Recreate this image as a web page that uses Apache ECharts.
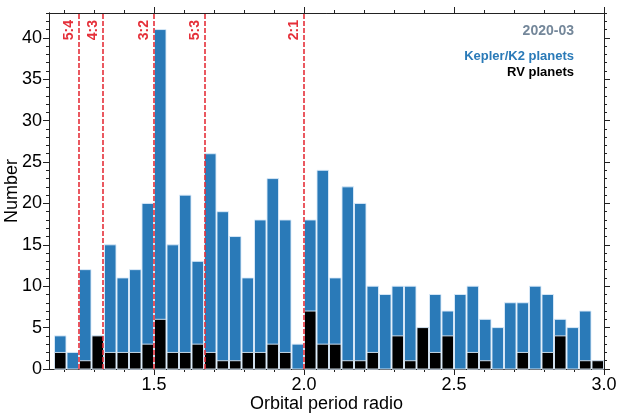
<!DOCTYPE html>
<html>
<head>
    <meta charset="utf-8">
    <title>Period ratio histogram</title>
    <script src="https://cdn.jsdelivr.net/npm/echarts@6.0.0/dist/echarts.min.js"></script>
    <style>
        html, body { margin: 0; padding: 0; background: #fff; }
        #chart { width: 623px; height: 415px; }
    </style>
</head>
<body>
    <div id="chart"></div>
    <script>
        // histogram bins: 44 bins of width 1/24 starting at 7/6
        var binStart = 7 / 6;
        var binWidth = 1 / 24;
        // counts per bin
        var keplerCounts = [4, 2, 12, 4, 15, 11, 12, 20, 41, 15, 21, 13, 26, 19, 16, 11,
                            18, 23, 18, 3, 18, 24, 11, 22, 20, 10, 9, 10, 10, 5, 9, 7,
                            9, 10, 6, 5, 8, 8, 10, 9, 6, 5, 7, 1];
        var rvCounts = [2, 0, 1, 4, 2, 2, 2, 3, 6, 2, 2, 3, 2, 1, 1, 2,
                        2, 3, 2, 0, 7, 3, 3, 1, 1, 2, 0, 4, 1, 5, 2, 4,
                        0, 2, 1, 0, 0, 2, 0, 2, 4, 0, 1, 1];
        // resonances
        var resNames = ['5:4', '4:3', '3:2', '5:3', '2:1'];
        var resValues = [5 / 4, 4 / 3, 3 / 2, 5 / 3, 2];
        // ticks
        var xMajor = [1.5, 2.0, 2.5, 3.0];
        var xMinor = [1.2, 1.3, 1.4, 1.5, 1.6, 1.7, 1.8, 1.9, 2.0, 2.1, 2.2, 2.3, 2.4, 2.5, 2.6, 2.7, 2.8, 2.9, 3.0];
        var yMajor = [0, 5, 10, 15, 20, 25, 30, 35, 40];
        var yMinor = [];
        for (var k = 0; k <= 43; k++) yMinor.push(k);

        var FONT = '"Liberation Sans", Arial, sans-serif';

        function toBins(counts) {
            return counts.map(function (c, i) {
                return [binStart + i * binWidth, binStart + (i + 1) * binWidth, c];
            });
        }

        function barRenderer(fill) {
            return function (params, api) {
                var p0 = api.coord([api.value(0), 0]);
                var p1 = api.coord([api.value(1), api.value(2)]);
                if (api.value(2) <= 0) return null;
                return {
                    type: 'rect',
                    shape: { x: p0[0] + 0.5, y: p1[1], width: p1[0] - p0[0] - 1, height: p0[1] - p1[1] },
                    style: { fill: fill, stroke: 'rgba(220,235,250,0.9)', lineWidth: 1 }
                };
            };
        }

        var chart = echarts.init(document.getElementById('chart'));

        function xAx(pos, ticks, len, labels) {
            return {
                type: 'value', position: pos, min: 1.15, max: 3.0,
                axisLine: { show: true, onZero: false, lineStyle: { color: '#222', width: 1 } },
                axisTick: { show: true, customValues: ticks, length: len, lineStyle: { color: '#222' } },
                axisLabel: labels ? {
                    show: true, customValues: xMajor, color: '#000', fontSize: 18, fontFamily: FONT, margin: 7,
                    formatter: function (v) { return v.toFixed(1); }
                } : { show: false },
                splitLine: { show: false },
                name: labels ? 'Orbital period radio' : '',
                nameLocation: 'middle', nameGap: 26, nameMoveOverlap: false,
                nameTextStyle: { color: '#000', fontSize: 18, fontFamily: FONT, verticalAlign: 'top' }
            };
        }
        function yAx(pos, ticks, len, labels) {
            return {
                type: 'value', position: pos, min: 0, max: 43,
                axisLine: { show: true, lineStyle: { color: '#222', width: 1 } },
                axisTick: { show: true, customValues: ticks, length: len, lineStyle: { color: '#222' } },
                axisLabel: labels ? { show: true, customValues: yMajor, color: '#000', fontSize: 18, fontFamily: FONT, margin: 7 } : { show: false },
                splitLine: { show: false },
                name: labels ? 'Number' : '',
                nameLocation: 'middle', nameGap: 37, nameRotate: 90, nameMoveOverlap: false,
                nameTextStyle: { color: '#000', fontSize: 18, fontFamily: FONT, verticalAlign: 'middle' }
            };
        }

        var option = {
            animation: false,
            backgroundColor: '#fff',
            grid: { left: 49, right: 19, top: 13, bottom: 46, containLabel: false, outerBoundsMode: 'none' },
            xAxis: [
                xAx('bottom', xMajor, 6, true),
                xAx('bottom', xMinor, 3, false),
                xAx('top', xMajor, 6, false),
                xAx('top', xMinor, 3, false)
            ],
            yAxis: [
                yAx('left', yMajor, 6, true),
                yAx('left', yMinor, 3, false),
                yAx('right', yMajor, 6, false),
                yAx('right', yMinor, 3, false)
            ],
            graphic: [
                { type: 'text', right: 49, top: 24, style: { text: '2020-03', font: 'bold 14px ' + FONT, fill: '#74879a' } },
                { type: 'text', right: 49, top: 50, style: { text: 'Kepler/K2 planets', font: 'bold 13px ' + FONT, fill: '#2a7ab8' } },
                { type: 'text', right: 49, top: 66, style: { text: 'RV planets', font: 'bold 13px ' + FONT, fill: '#000' } }
            ],
            series: [
                {
                    name: 'Kepler/K2 planets', type: 'custom', xAxisIndex: 0, yAxisIndex: 0,
                    renderItem: barRenderer('#2a7ab8'),
                    encode: { x: [0, 1], y: 2 },
                    data: toBins(keplerCounts)
                },
                {
                    name: 'RV planets', type: 'custom', xAxisIndex: 0, yAxisIndex: 0,
                    renderItem: barRenderer('#000'),
                    encode: { x: [0, 1], y: 2 },
                    data: toBins(rvCounts),
                    markLine: {
                        silent: true, symbol: 'none', animation: false,
                        lineStyle: { color: '#e5303a', type: [5, 2], width: 1.6 },
                        label: {
                            show: true, position: 'insideEndTop', distance: [7, 3],
                            color: '#e5303a', fontSize: 14, fontWeight: 'bold', fontFamily: FONT,
                            formatter: function (p) { return p.name; }
                        },
                        data: resValues.map(function (v, i) { return { name: resNames[i], xAxis: v }; })
                    }
                }
            ]
        };
        chart.setOption(option);
    </script>
</body>
</html>
